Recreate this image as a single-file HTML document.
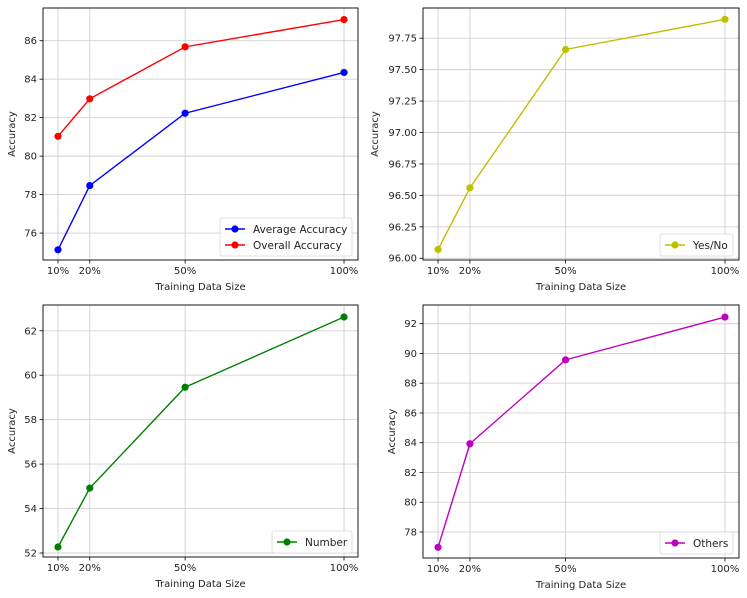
<!DOCTYPE html>
<html><head><meta charset="utf-8"><style>
html,body{margin:0;padding:0;background:#fff;}
svg{display:block;font-family:"DejaVu Sans","Liberation Sans",sans-serif;}
</style></head><body>
<svg id="fig" width="747" height="598" viewBox="0 0 747 598" xmlns="http://www.w3.org/2000/svg"></svg>
<script>
const categories = [10, 20, 50, 100];
const categoryLabels = ["10%", "20%", "50%", "100%"];
const avgAccuracy = [75.13, 78.47, 82.23, 84.35];
const overallAccuracy = [81.03, 82.98, 85.68, 87.10];
const yesNoAccuracy = [96.07, 96.56, 97.66, 97.90];
const numberAccuracy = [52.27, 54.92, 59.46, 62.62];
const othersAccuracy = [76.97, 83.93, 89.57, 92.45];
const ticks1 = [76, 78, 80, 82, 84, 86];
const ticks1Labels = ["76", "78", "80", "82", "84", "86"];
const ticks2 = [96.00, 96.25, 96.50, 96.75, 97.00, 97.25, 97.50, 97.75];
const ticks2Labels = ["96.00", "96.25", "96.50", "96.75", "97.00", "97.25", "97.50", "97.75"];
const ticks3 = [52, 54, 56, 58, 60, 62];
const ticks3Labels = ["52", "54", "56", "58", "60", "62"];
const ticks4 = [78, 80, 82, 84, 86, 88, 90, 92];
const ticks4Labels = ["78", "80", "82", "84", "86", "88", "90", "92"];

const NS = "http://www.w3.org/2000/svg";
const fig = document.getElementById("fig");
function mk(tag, attrs, parent) {
  const e = document.createElementNS(NS, tag);
  for (const k in attrs) e.setAttribute(k, attrs[k]);
  (parent || fig).appendChild(e);
  return e;
}

function panel(cfg) {
  const g = mk("g", {});
  
  
  const L = cfg.x0, R = cfg.x1, T = cfg.y0, B = cfg.y1;
  const xs = v => L + (v - 5.28) / (104.4 - 5.28) * (R - L);
  const ys = v => B - (v - cfg.ymin) / (cfg.ymax - cfg.ymin) * (B - T);
  categories.forEach((c, i) => {
    const ln = mk("line", {x1: xs(c), x2: xs(c), y1: T, y2: B, stroke: "#d0d0d0", "stroke-width": 0.9}, g);
    
    
    mk("line", {x1: xs(c), x2: xs(c), y1: B, y2: B + 3.5, stroke: "#000", "stroke-width": 0.8}, g);
    const t = mk("text", {x: xs(c), y: B + 14, "font-size": 10, "text-anchor": "middle", fill: "#222"}, g);
    t.textContent = categoryLabels[i];
    
    
  });
  cfg.ticks.forEach((v, i) => {
    const ln = mk("line", {x1: L, x2: R, y1: ys(v), y2: ys(v), stroke: "#d0d0d0", "stroke-width": 0.9}, g);
    
    
    mk("line", {x1: L - 3.5, x2: L, y1: ys(v), y2: ys(v), stroke: "#000", "stroke-width": 0.8}, g);
    const t = mk("text", {x: L - 6, y: ys(v) + 3.5, "font-size": 10, "text-anchor": "end", fill: "#222"}, g);
    t.textContent = cfg.tickLabels[i];
    
    
  });
  cfg.series.forEach(s => {
    const pts = categories.map((c, i) => xs(c) + "," + ys(s.data[i])).join(" ");
    const pl = mk("polyline", {points: pts, fill: "none", stroke: s.color, "stroke-width": 1.4}, g);
    
    
    categories.forEach((c, i) => {
      const p = mk("circle", {cx: xs(c), cy: ys(s.data[i]), r: 3.6, fill: s.color}, g);
      
      
    });
  });
  const fr = mk("rect", {x: L, y: T, width: R - L, height: B - T, fill: "none", stroke: "#000", "stroke-width": 0.9}, g);
  
  
  const xl = mk("text", {x: (L + R) / 2, y: B + 30, "font-size": 10, "text-anchor": "middle", fill: "#222"}, g);
  xl.textContent = "Training Data Size";
  
  
  const yx = cfg.ylabelX, yy = (T + B) / 2;
  const yl = mk("text", {x: yx, y: yy, "font-size": 10, "text-anchor": "middle", fill: "#222", transform: "rotate(-90 " + yx + " " + yy + ")"}, g);
  yl.textContent = "Accuracy";
  
  
  const lg = mk("g", {}, g);
  
  
  const n = cfg.series.length;
  const lh = 6 + n * 16;
  const lx = R - 6 - cfg.legendW, ly = B - 4 - lh;
  mk("rect", {x: lx, y: ly, width: cfg.legendW, height: lh, rx: 2, fill: "#fff", "fill-opacity": 0.85, stroke: "#d8d8d8", "stroke-width": 0.8}, lg);
  cfg.series.forEach((s, i) => {
    const cy = ly + 11 + i * 16;
    const en = mk("g", {}, lg);
    
    
    mk("line", {x1: lx + 5, x2: lx + 25, y1: cy, y2: cy, stroke: s.color, "stroke-width": 1.4}, en);
    mk("circle", {cx: lx + 15, cy: cy, r: 3.6, fill: s.color}, en);
    const t = mk("text", {x: lx + 33, y: cy + 3.8, "font-size": 10.5, fill: "#222"}, en);
    t.textContent = s.label;
  });
}

panel({name: "accuracy-overall-panel", x0: 43, x1: 358, y0: 8, y1: 260, ymin: 74.60, ymax: 87.70,
  ticks: ticks1, tickLabels: ticks1Labels, ylabelX: 15, legendW: 132,
  series: [{key: "average-accuracy", label: "Average Accuracy", color: "#0000ff", data: avgAccuracy},
           {key: "overall-accuracy", label: "Overall Accuracy", color: "#ff0000", data: overallAccuracy}]});
panel({name: "yes-no-panel", x0: 423, x1: 739, y0: 8, y1: 260, ymin: 95.986, ymax: 97.99,
  ticks: ticks2, tickLabels: ticks2Labels, ylabelX: 378, legendW: 73,
  series: [{key: "yes-no", label: "Yes/No", color: "#bfbf00", data: yesNoAccuracy}]});
panel({name: "number-panel", x0: 43, x1: 358, y0: 305, y1: 557, ymin: 51.82, ymax: 63.16,
  ticks: ticks3, tickLabels: ticks3Labels, ylabelX: 15, legendW: 80,
  series: [{key: "number", label: "Number", color: "#008000", data: numberAccuracy}]});
panel({name: "others-panel", x0: 423, x1: 739, y0: 305, y1: 558, ymin: 76.25, ymax: 93.26,
  ticks: ticks4, tickLabels: ticks4Labels, ylabelX: 395, legendW: 73,
  series: [{key: "others", label: "Others", color: "#bf00bf", data: othersAccuracy}]});
</script>
</body></html>
